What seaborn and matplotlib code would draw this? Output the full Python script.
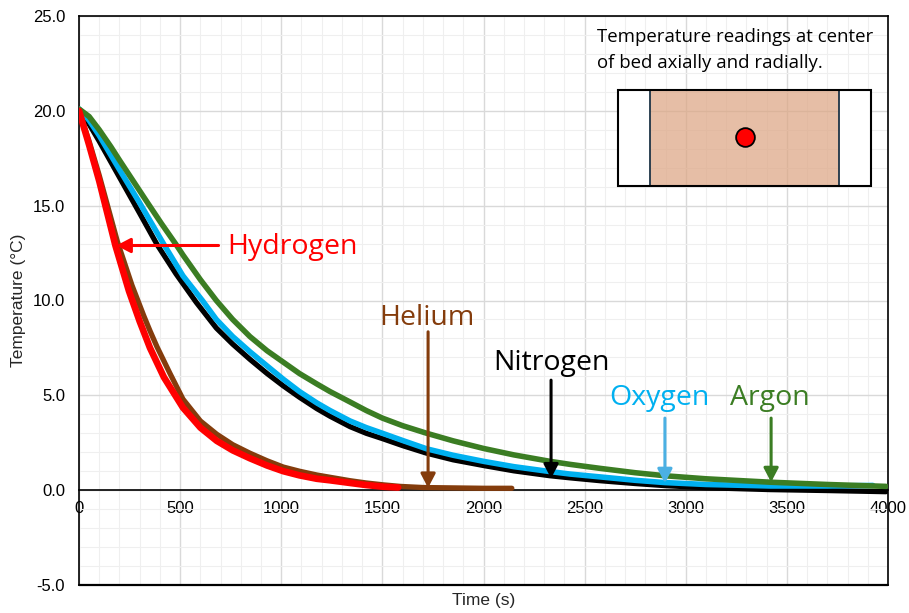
import numpy as np
import pandas as pd
import matplotlib
matplotlib.use("Agg")
import matplotlib.pyplot as plt
import seaborn as sns
from matplotlib.patches import Rectangle

# ---------------- data ----------------
h2_t = [0, 50, 100, 180, 247, 300, 351, 420, 514, 600, 681, 760, 845, 930, 1010,
        1090, 1176, 1241, 1340, 1420, 1505, 1578]
h2_T = [20.0, 18.2, 16.3, 12.9, 10.5, 8.9, 7.5, 5.95, 4.35, 3.3, 2.6, 2.1, 1.68, 1.3, 1.0,
        0.78, 0.6, 0.52, 0.38, 0.27, 0.18, 0.14]

he_t = [0, 50, 100, 190, 262, 320, 351, 386, 450, 514, 600, 681, 760, 845, 930, 1010,
        1090, 1176, 1241, 1340, 1420, 1505, 1587, 1700, 1850, 2000, 2140]
he_T = [20.0, 18.4, 16.6, 13.1, 10.8, 9.2, 8.4, 7.55, 6.15, 4.8, 3.65, 2.95, 2.4, 1.95, 1.55, 1.22,
        1.0, 0.8, 0.68, 0.5, 0.38, 0.28, 0.2, 0.14, 0.12, 0.1, 0.1]

n2_t = [0, 50, 100, 200, 300, 386, 480, 580, 679, 760, 845, 930, 1010, 1090, 1176,
        1241, 1340, 1420, 1500, 1600, 1719, 1850, 2000, 2150, 2329, 2428, 2576, 2750,
        2897, 3100, 3417, 3700, 3990]
n2_T = [20.0, 19.3, 18.4, 16.5, 14.6, 12.95, 11.4, 9.9, 8.55, 7.7, 6.9, 6.15, 5.5, 4.9, 4.3,
        3.9, 3.35, 3.0, 2.72, 2.35, 1.95, 1.6, 1.3, 1.02, 0.76, 0.65, 0.5, 0.35,
        0.24, 0.13, 0.03, -0.02, -0.08]

o2_t = [0, 50, 100, 200, 297, 420, 514, 610, 679, 760, 845, 930, 1010, 1090, 1176,
        1241, 1340, 1420, 1500, 1600, 1719, 1850, 2000, 2150, 2329, 2428, 2576, 2750,
        2897, 3100, 3417, 3700, 3925]
o2_T = [20.1, 19.5, 18.7, 16.9, 15.2, 12.95, 11.3, 10.0, 9.0, 8.1, 7.3, 6.55, 5.85, 5.2, 4.6,
        4.2, 3.65, 3.3, 3.0, 2.62, 2.18, 1.84, 1.52, 1.24, 0.98, 0.85, 0.7, 0.52,
        0.4, 0.3, 0.22, 0.22, 0.25]

ar_t = [0, 50, 100, 158, 200, 268, 336, 408, 480, 514, 600, 679, 760, 845, 930, 1010, 1090,
        1176, 1241, 1340, 1420, 1500, 1600, 1719, 1850, 2000, 2150, 2329, 2428, 2576,
        2750, 2897, 3100, 3417, 3700, 3990]
ar_T = [20.1, 19.7, 19.0, 18.1, 17.4, 16.3, 15.2, 14.05, 12.95, 12.4, 11.1, 10.0, 9.0, 8.1, 7.35,
        6.75, 6.15, 5.6, 5.2, 4.65, 4.2, 3.8, 3.4, 3.0, 2.6, 2.2, 1.86, 1.52, 1.36, 1.15,
        0.92, 0.76, 0.6, 0.42, 0.3, 0.2]

gases = ["Nitrogen", "Oxygen", "Argon", "Helium", "Hydrogen"]
colors = {"Hydrogen": "#FF0000", "Helium": "#843C0C", "Nitrogen": "#000000",
          "Oxygen": "#00B0F0", "Argon": "#3B7D23"}
series = {"Hydrogen": (h2_t, h2_T), "Helium": (he_t, he_T), "Nitrogen": (n2_t, n2_T),
          "Oxygen": (o2_t, o2_T), "Argon": (ar_t, ar_T)}

x_ticks = [0, 500, 1000, 1500, 2000, 2500, 3000, 3500, 4000]
y_ticks = [-5.0, 0.0, 5.0, 10.0, 15.0, 20.0, 25.0]

# ---------------- figure ----------------
sns.set_style("white")
plt.rcParams["font.family"] = ["Liberation Sans", "DejaVu Sans"]
annot_font = ["Open Sans", "DejaVu Sans"]

fig = plt.figure(figsize=(9.09, 6.13), dpi=100)
ax = fig.add_axes([79 / 909, 1 - 585 / 613, 809 / 909, 569 / 613])

widths = {"Hydrogen": 4.8, "Helium": 3.8, "Nitrogen": 3.8, "Oxygen": 4.0, "Argon": 4.0}
for g in gases:
    t, T = series[g]
    df = pd.DataFrame({"Time (s)": t, "Temperature": T})
    sns.lineplot(data=df, x="Time (s)", y="Temperature", ax=ax, color=colors[g],
                 lw=widths[g], sort=False, estimator=None, zorder=3)

ax.set_xlim(0, 4000)
ax.set_ylim(-5, 25)
ax.set_xticks(x_ticks)
ax.set_xticklabels([f"{v:d}" for v in x_ticks])
ax.set_yticks(y_ticks)
ax.set_yticklabels([f"{v:.1f}" for v in y_ticks])
ax.set_xticks(np.arange(0, 4001, 100), minor=True)
ax.set_yticks(np.arange(-5, 25.1, 1), minor=True)

ax.grid(True, which="major", color="#D9D9D9", lw=1.0)
ax.grid(True, which="minor", color="#EFEFEF", lw=0.8)
ax.set_axisbelow(True)

ax.tick_params(axis="both", which="both", direction="in", colors="#000000",
               labelsize=12, width=1.0)
ax.tick_params(axis="both", which="major", length=5)
ax.tick_params(axis="both", which="minor", length=5)
ax.tick_params(axis="x", pad=8)
ax.tick_params(axis="y", pad=10)

for s in ["top", "right", "left", "bottom"]:
    ax.spines[s].set_color("#000000")
    ax.spines[s].set_linewidth(1.2)
ax.spines["bottom"].set_position(("data", 0))
ax.axhline(-5, color="#000000", lw=1.6, clip_on=False, zorder=5)

ax.set_xlabel("Time (s)", fontsize=12.5, va="center")
ax.xaxis.set_label_coords(0.5, -0.027)
ax.set_ylabel("Temperature (°C)", fontsize=12.5, va="center")
ax.yaxis.set_label_coords(-0.075, 0.5)

# ---------------- annotations ----------------
def arrow(x0, y0, x1, y1, color):
    ax.annotate("", xy=(x1, y1), xytext=(x0, y0),
                arrowprops=dict(arrowstyle="-|>,head_length=0.42,head_width=0.22",
                                color=color, lw=2.2, shrinkA=0, shrinkB=0,
                                mutation_scale=20), zorder=6)

fs = 20.5
arrow(690, 12.9, 185, 12.9, "#FF0000")
ax.text(732, 12.8, "Hydrogen", color="#FF0000", fontsize=fs, family=annot_font,
        ha="left", va="center", zorder=6)

arrow(1726, 8.35, 1726, 0.12, "#843C0C")
ax.text(1721, 9.1, "Helium", color="#843C0C", fontsize=fs, family=annot_font,
        ha="center", va="center", zorder=6)

arrow(2334, 5.8, 2334, 0.62, "#000000")
ax.text(2334, 6.7, "Nitrogen", color="#000000", fontsize=fs, family=annot_font,
        ha="center", va="center", zorder=6)

arrow(2897, 3.8, 2897, 0.37, "#4BB0E3")
ax.text(2868, 4.85, "Oxygen", color="#00B0F0", fontsize=fs, family=annot_font,
        ha="center", va="center", zorder=6)

arrow(3422, 3.8, 3422, 0.42, "#3B7D23")
ax.text(3417, 4.85, "Argon", color="#3B7D23", fontsize=fs, family=annot_font,
        ha="center", va="center", zorder=6)

# inset schematic
ax.text(2561, 23.88, "Temperature readings at center", fontsize=13.4, family=annot_font,
        ha="left", va="center", color="#000000", zorder=6)
ax.text(2561, 22.5, "of bed axially and radially.", fontsize=13.4, family=annot_font,
        ha="left", va="center", color="#000000", zorder=6)

ax.add_patch(Rectangle((2665, 16.03), 2823 - 2665, 5.06, facecolor="white",
                       edgecolor="none", zorder=4))
ax.add_patch(Rectangle((3758, 16.03), 3916 - 3758, 5.06, facecolor="white",
                       edgecolor="none", zorder=4))
ax.add_patch(Rectangle((2823, 16.03), 3758 - 2823, 5.06, facecolor="#DDA684",
                       alpha=0.72, edgecolor="none", zorder=4))
ax.add_patch(Rectangle((2823, 16.03), 3758 - 2823, 5.06, facecolor="none",
                       edgecolor="#1E3446", lw=1.3, zorder=5))
ax.add_patch(Rectangle((2665, 16.03), 3916 - 2665, 5.06, facecolor="none",
                       edgecolor="#000000", lw=1.5, zorder=5))
ax.plot([3293], [18.6], marker="o", ms=13.5, mfc="#FF0000", mec="#000000", mew=1.3,
        zorder=6)

fig.savefig("out.png", dpi=100)
